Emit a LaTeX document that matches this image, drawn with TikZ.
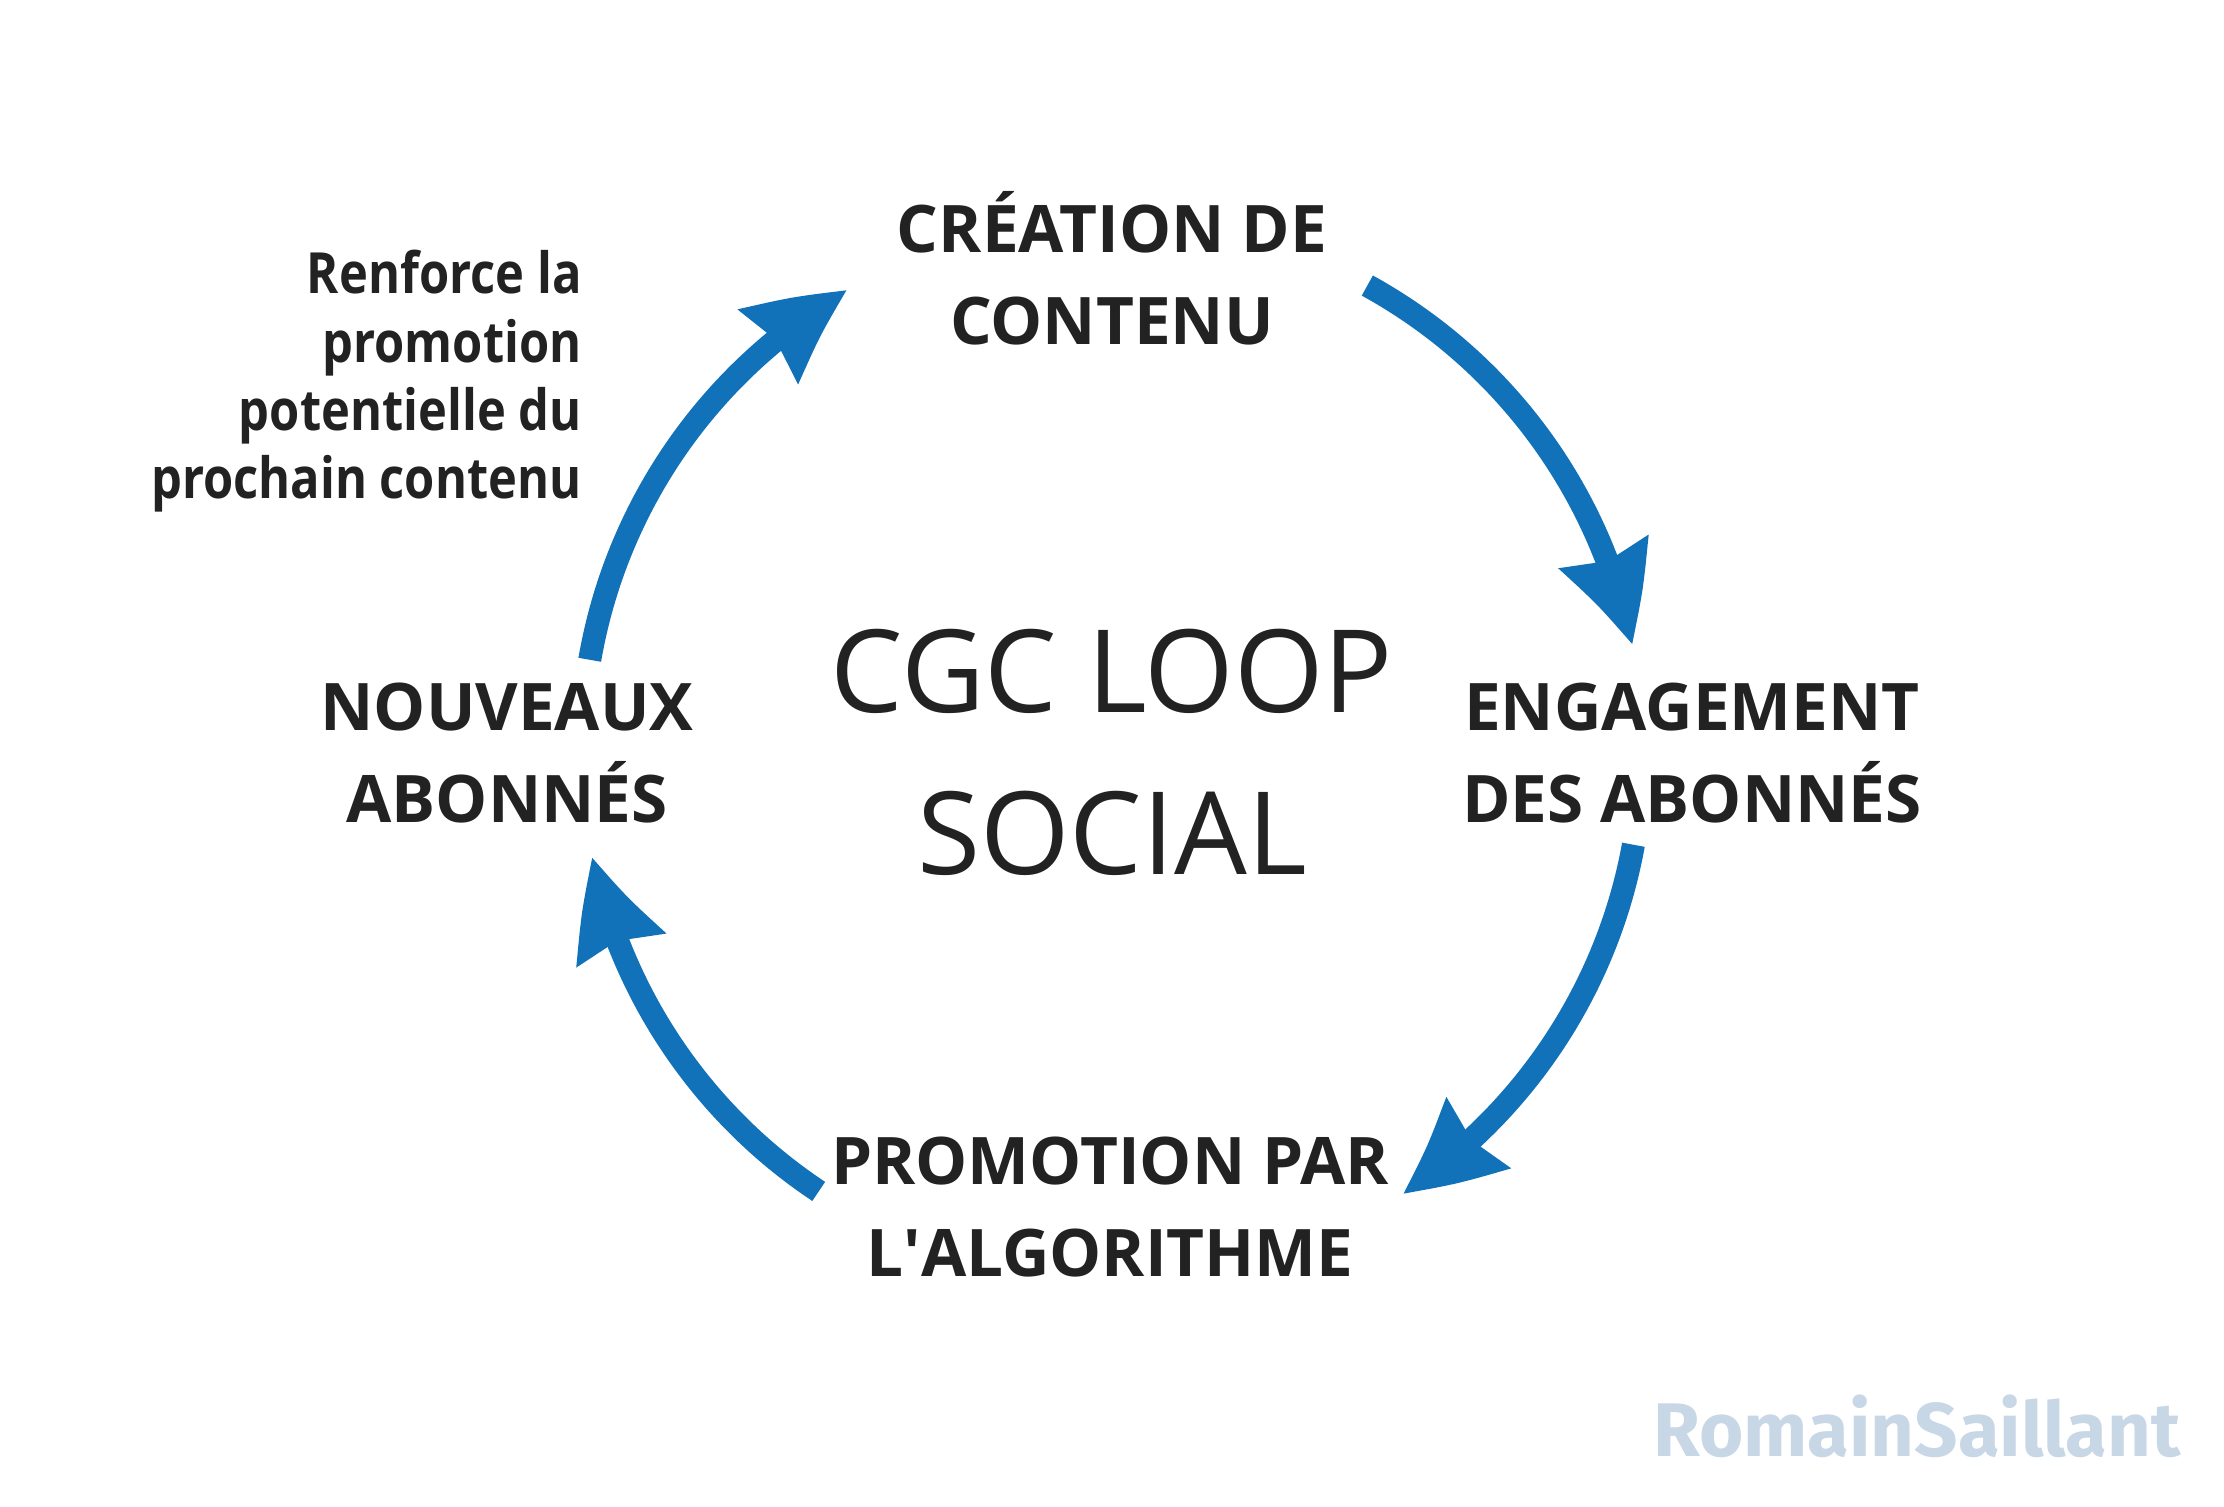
\documentclass[tikz,border=0pt]{standalone}
\usepackage{fontspec}
\setmainfont{Open Sans}
\newfontfamily\notefont[FakeStretch=0.86]{Open Sans}
\newfontfamily\markfont{Fira Sans}
\usetikzlibrary{arrows.meta,bending,positioning,calc}
\definecolor{loopblue}{HTML}{1172B9}
\definecolor{ink}{HTML}{222222}
\definecolor{signature}{HTML}{C8D7E6}

\begin{document}
\begin{tikzpicture}[x=0.5pt,y=0.5pt,
stage/.style={text=ink,font=\bfseries\fontsize{32.8}{46}\selectfont,align=center,anchor=base,inner sep=0pt},
flow/.style={-{Stealth[length=48pt,width=45pt,inset=4pt,bend]},line width=11.5pt,loopblue}]
\useasboundingbox (0,0) rectangle (2224,1506);
\coordinate (c) at (1112,756);
% centre
\node[text=ink,font=\fontsize{57.5}{81}\selectfont,align=center,anchor=base,inner sep=0pt] (title) at (1112,631) {CGC LOOP\\SOCIAL};
% the four stages
\node[stage] (create) at (1112,1161) {CRÉATION DE\\CONTENU};
\node[stage] (engage) at (1692,683) {ENGAGEMENT\\DES ABONNÉS};
\node[stage] (promo) at (1110,229) {PROMOTION PAR\\L\textquotesingle ALGORITHME};
\node[stage] (follow) at (507,683) {NOUVEAUX\\ABONNÉS};
\node[text=ink,font=\notefont\bfseries\fontsize{28.4}{34.2}\selectfont,align=right,anchor=base east,inner sep=0pt] (note) at (582,1007) {Renforce la\\promotion\\potentielle du\\prochain contenu};
% arrows round the loop
\foreach \a/\b [count=\i] in {61.2/11.4,-10.3/-56.8,236.4/191.6,170.2/119.9}{
  \coordinate (s\i) at ($(c)+(\a:265pt)$);
  \draw[flow] (s\i) arc[start angle=\a,end angle=\b,radius=265pt];
}
\node[text=signature,font=\markfont\bfseries\fontsize{38}{40}\selectfont,anchor=base east,inner sep=0pt] (sign) at (2181,49) {RomainSaillant};
\end{tikzpicture}
\end{document}
